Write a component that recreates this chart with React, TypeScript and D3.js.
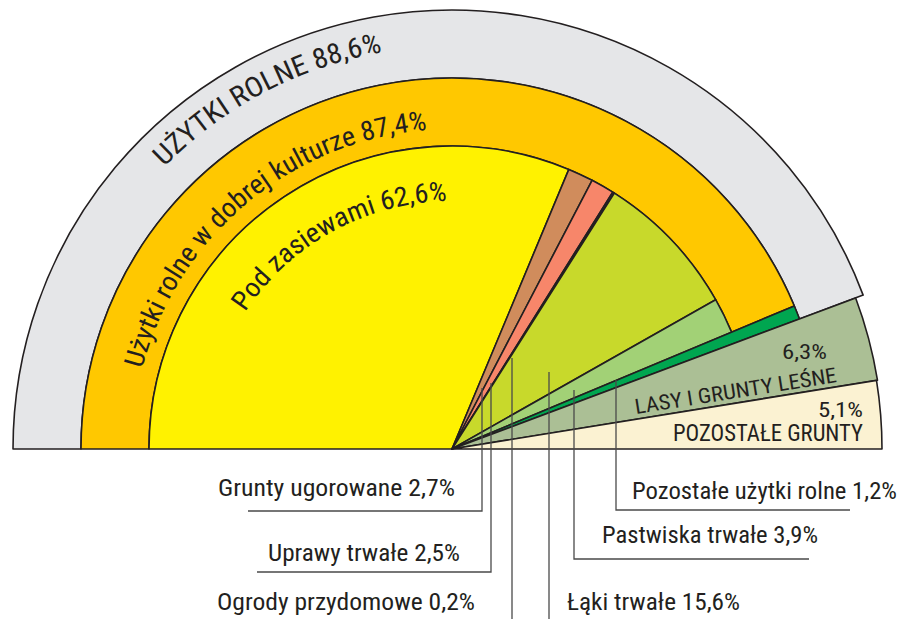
import React from "react";
import * as d3 from "d3";

// ---- data ----
const innerNames = ["Pod zasiewami", "Grunty ugorowane", "Uprawy trwałe", "Ogrody przydomowe", "Łąki trwałe", "Pastwiska trwałe"];
const innerValues = [62.6, 2.7, 2.5, 0.2, 15.6, 3.9];
const goodCulture = 87.4; // Użytki rolne w dobrej kulturze
const agricultural = 88.6; // UŻYTKI ROLNE
const otherAgri = 1.2; // Pozostałe użytki rolne
const forest = 6.3; // Lasy i grunty leśne
const otherLand = 5.1; // Pozostałe grunty

const bottomLabels = [
  "Grunty ugorowane 2,7%",
  "Uprawy trwałe 2,5%",
  "Ogrody przydomowe 0,2%",
  "Łąki trwałe 15,6%",
  "Pastwiska trwałe 3,9%",
  "Pozostałe użytki rolne 1,2%",
];

// ---- style / layout ----
const W = 901, H = 619;
const cx = 452, cy = 449;
const R_INNER = 303, R_ORANGE = 371, R_GRAY = 439, R_OUTER = 431;
const innerColors = ["#fff200", "#d08c5c", "#f7866a", "#2e2a48", "#c8d92b", "#a2d176"];
const INK = "#231f20";
const FONT = "'Liberation Sans Narrow', 'Roboto Condensed', Roboto, 'Liberation Sans', sans-serif";
const WEIGHT = 400;

const labelLayout = [
  { x: 218, y: 496, len: 237, line: [[248, 511], [482, 511], [482, 388]] },
  { x: 268, y: 561, len: 192, line: [[257, 572], [491, 572], [491, 383]] },
  { x: 217, y: 610, len: 258, line: [[512, 619], [512, 358]] },
  { x: 567, y: 610, len: 173, line: [[549, 619], [549, 372]] },
  { x: 602, y: 543, len: 216, line: [[809, 559], [574, 559], [574, 390]] },
  { x: 632, y: 499, len: 265, line: [[850, 510], [616, 510], [616, 380]] },
];

const ang = d3.scaleLinear().domain([0, 100]).range([-Math.PI / 2, Math.PI / 2]);

function arcPath(r0: number, r1: number, p0: number, p1: number) {
  return d3.arc()({ innerRadius: r0, outerRadius: r1, startAngle: ang(p0), endAngle: ang(p1) }) as string;
}

function textArc(R: number) {
  return `M ${cx - R} ${cy} A ${R} ${R} 0 0 1 ${cx + R} ${cy}`;
}

export default function App() {
  let cum = 0;
  const inner = innerValues.map((v, i) => {
    const s = cum;
    cum += v;
    return { s, e: Math.min(cum, goodCulture), c: innerColors[i], n: innerNames[i] };
  });
  const deg = Math.PI / 180;
  const curved = [
    { id: "t1", R: 403, a0: 44.4, a1: 80, text: "UŻYTKI ROLNE 88,6%", fs: 28 },
    { id: "t2", R: 320, a0: 14.5, a1: 85.5, text: "Użytki rolne w dobrej kulturze 87,4%", fs: 27 },
    { id: "t3", R: 248, a0: 33.5, a1: 88.8, text: "Pod zasiewami 62,6%", fs: 27 },
  ];
  const stroke = { stroke: INK, strokeWidth: 1.6, strokeLinejoin: "round" as const };
  return (
    <svg width={W} height={H} style={{ position: "absolute", left: 0, top: 0, background: "#fff" }} fontFamily={FONT} fontWeight={WEIGHT}>
      <defs>
        {curved.map((c) => (
          <path key={c.id} id={c.id} d={textArc(c.R)} />
        ))}
      </defs>
      <g transform={`translate(${cx},${cy})`}>
        <path d={arcPath(R_ORANGE, R_GRAY, 0, agricultural)} fill="#e5e6e8" {...stroke} />
        <path d={arcPath(R_INNER, R_ORANGE, 0, goodCulture)} fill="#ffc800" {...stroke} />
        {inner.map((d, i) => (
          <path key={i} d={arcPath(0, R_INNER, d.s, d.e)} fill={d.c} {...stroke} />
        ))}
        <path d={arcPath(0, R_ORANGE, goodCulture, goodCulture + otherAgri)} fill="#00a650" {...stroke} />
        <path d={arcPath(0, R_OUTER, agricultural, agricultural + forest)} fill="#abbf95" {...stroke} />
        <path d={arcPath(0, R_OUTER - 1, agricultural + forest, agricultural + forest + otherLand)} fill="#fbf2d2" {...stroke} />
      </g>
      {curved.map((c) => (
        <text key={c.id} fill={INK} fontSize={c.fs}>
          <textPath href={`#${c.id}`} startOffset={c.R * c.a0 * deg} textLength={c.R * (c.a1 - c.a0) * deg} lengthAdjust="spacingAndGlyphs">
            {c.text}
          </textPath>
        </text>
      ))}
      {/* right side labels */}
      <text x={782} y={359} fontSize={21} fill={INK} textLength={45} lengthAdjust="spacingAndGlyphs">{`${forest.toFixed(1).replace(".", ",")}%`}</text>
      <text x={636} y={414} fontSize={21} fill={INK} textLength={204} lengthAdjust="spacingAndGlyphs" transform="rotate(-9 636 414)">LASY I GRUNTY LEŚNE</text>
      <text x={818} y={417} fontSize={21} fill={INK} textLength={45} lengthAdjust="spacingAndGlyphs">{`${otherLand.toFixed(1).replace(".", ",")}%`}</text>
      <text x={673} y={441} fontSize={23} fill={INK} textLength={190} lengthAdjust="spacingAndGlyphs">POZOSTAŁE GRUNTY</text>
      {/* bottom labels with leader lines */}
      {bottomLabels.map((t, i) => {
        const L = labelLayout[i];
        return (
          <g key={i}>
            <polyline points={L.line.map((p) => p.join(",")).join(" ")} fill="none" stroke="#4a4a4a" strokeWidth={1.3} />
            <text x={L.x} y={L.y} fontSize={24} fill={INK} textLength={L.len} lengthAdjust="spacingAndGlyphs">{t}</text>
          </g>
        );
      })}
    </svg>
  );
}
